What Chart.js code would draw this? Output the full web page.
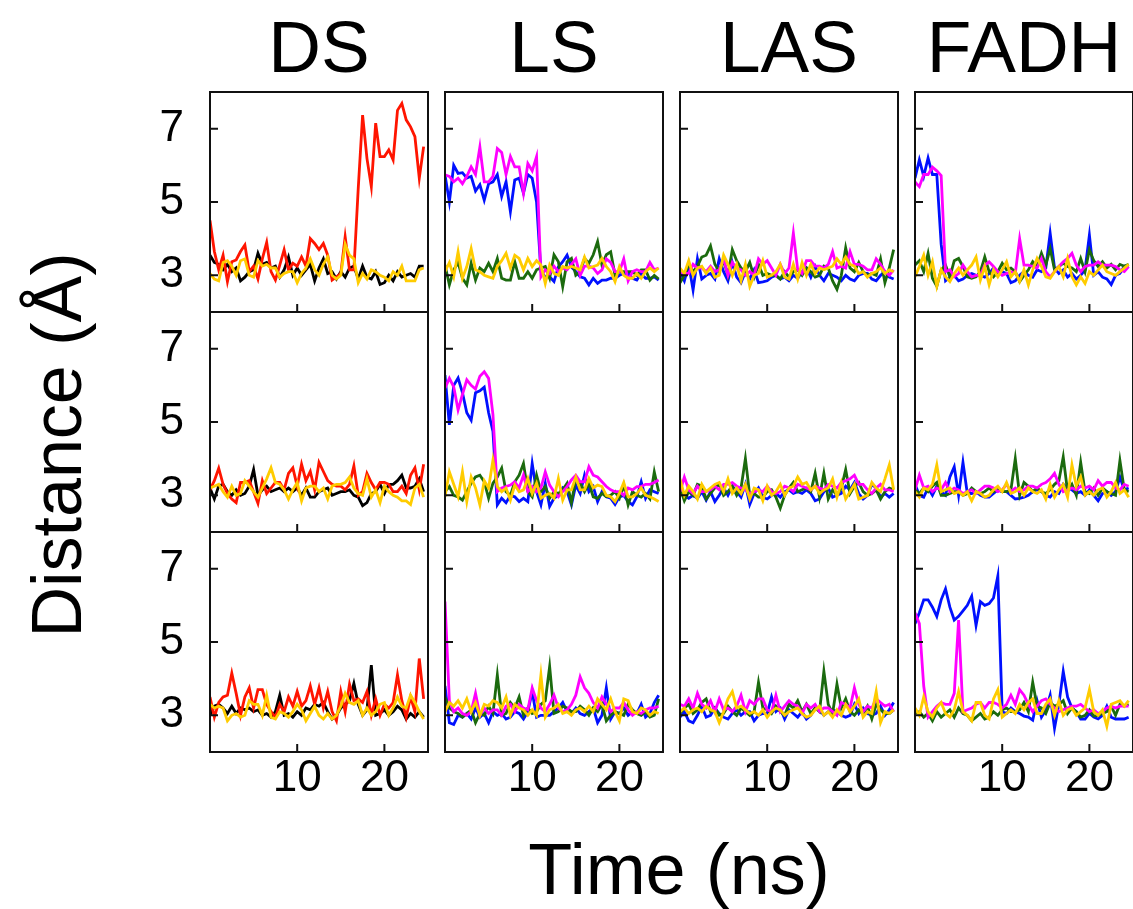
<!DOCTYPE html>
<html>
<head>
<meta charset="utf-8">
<title>Distance vs time</title>
<script src="https://cdn.jsdelivr.net/npm/chart.js@4.4.1/dist/chart.umd.min.js"></script>
<style>
  html, body { margin: 0; padding: 0; background: #fff; }
  #page { position: relative; width: 1133px; height: 909px; overflow: hidden;
          font-family: "Liberation Sans", Arial, Helvetica, sans-serif; color: #000; }
  #page canvas { position: absolute; }
  .title { position: absolute; top: 11px; width: 218px; text-align: center;
           font-size: 73px; line-height: 72px; white-space: nowrap; }
  #xlabel { position: absolute; left: 679px; top: 833px; transform: translateX(-50%);
            font-size: 72px; line-height: 72px; white-space: nowrap; }
  #ylabel { position: absolute; left: 57px; top: 445px; transform: translate(-50%, -50%) rotate(-90deg);
            font-size: 70px; line-height: 72px; white-space: nowrap; }
</style>
</head>
<body>
<div id="page">
  <div class="title" style="left:210px">DS</div>
  <div class="title" style="left:445px">LS</div>
  <div class="title" style="left:680px">LAS</div>
  <div class="title" style="left:915px">FADH</div>
  <div id="ylabel">Distance (Å)</div>
  <div id="xlabel">Time (ns)</div>
</div>
<script>
// time axis (ns), one sample every 0.5 ns
const time = [0, 0.5, 1, 1.5, 2, 2.5, 3, 3.5, 4, 4.5, 5, 5.5, 6, 6.5, 7, 7.5, 8, 8.5, 9, 9.5,
  10, 10.5, 11, 11.5, 12, 12.5, 13, 13.5, 14, 14.5, 15, 15.5, 16, 16.5, 17, 17.5, 18, 18.5, 19, 19.5,
  20, 20.5, 21, 21.5, 22, 22.5, 23, 23.5, 24, 24.5];
const yTicks = [3, 5, 7];
const xTicks = [10, 20];
const titles = ['DS', 'LS', 'LAS', 'FADH'];

// ---- row 1 ----
const ds1Black = [3.55, 3.35, 3.3, 3.15, 3.3, 3.1, 3.2, 2.85, 2.95, 3.1, 3.15, 3.6, 3.3, 3.35, 3.2, 3.25, 2.95, 3.15, 3.5, 3.0,
  3.2, 3.0, 3.15, 3.3, 2.85, 3.2, 3.45, 3.05, 3.1, 2.9, 3.1, 2.95, 3.2, 3.25, 2.9, 3.25, 2.95, 2.9, 3.1, 2.75,
  2.8, 3.0, 2.85, 3.1, 2.95, 3.0, 3.05, 2.95, 3.25, 3.25];
const ds1Red = [4.5, 3.65, 3.15, 3.55, 2.83, 3.37, 3.42, 3.65, 3.83, 3.1, 3.25, 2.9, 3.45, 3.9, 3.1, 2.87, 3.28, 3.7, 3.15, 3.33,
  3.25, 3.5, 3.25, 4.0, 3.87, 3.7, 3.87, 3.55, 2.87, 2.96, 3.05, 4.05, 3.15, 3.15, 5.37, 7.37, 6.19, 5.42, 7.15, 6.24,
  6.24, 6.42, 6.15, 7.5, 7.69, 7.24, 7.05, 6.78, 5.65, 6.51];
const ds1Yellow = [3.05, 2.9, 2.85, 3.35, 3.4, 3.25, 3.0, 3.4, 3.45, 3.0, 2.95, 3.4, 3.25, 3.3, 3.2, 3.2, 2.95, 3.05, 3.1, 3.1,
  2.8, 3.05, 3.2, 3.45, 3.15, 3.0, 3.3, 3.5, 3.0, 2.9, 3.0, 3.85, 3.55, 3.45, 2.8, 3.05, 2.9, 3.15, 3.1, 3.0,
  2.95, 2.85, 3.1, 3.0, 3.25, 2.85, 2.85, 2.85, 3.15, 3.2];

const ls1Blue = [5.74, 5.0, 6.0, 5.78, 5.8, 5.65, 5.7, 5.3, 5.47, 5.05, 5.5, 5.55, 5.75, 5.15, 5.55, 4.74, 5.6, 5.65, 5.24, 5.75,
  5.65, 5.0, 3.1, 2.96, 2.96, 2.83, 3.23, 3.37, 3.55, 3.23, 3.1, 2.96, 2.92, 2.74, 2.92, 2.78, 2.87, 2.87, 2.92, 2.92,
  3.0, 3.05, 3.05, 2.92, 2.87, 3.05, 2.92, 2.92, 2.96, 2.87];
const ls1Magenta = [5.74, 5.7, 5.55, 5.65, 5.5, 5.7, 5.96, 5.75, 6.5, 5.55, 5.55, 5.7, 6.46, 6.35, 5.75, 6.24, 5.96, 5.96, 5.24, 6.05,
  5.85, 6.24, 2.96, 3.15, 3.05, 3.25, 3.1, 3.2, 3.15, 3.3, 3.45, 3.0, 3.25, 3.25, 3.2, 3.05, 3.15, 3.45, 3.35, 3.1,
  3.1, 3.45, 2.85, 3.1, 3.15, 3.1, 3.1, 3.35, 3.15, 3.2];
const ls1Green = [3.28, 2.74, 3.15, 3.35, 2.92, 2.74, 3.33, 2.87, 3.2, 3.1, 3.33, 3.1, 3.46, 2.92, 2.87, 2.87, 3.37, 2.92, 2.92, 3.1,
  2.92, 3.15, 3.2, 3.24, 2.92, 3.56, 3.37, 2.69, 3.37, 3.46, 3.0, 3.1, 3.46, 3.33, 3.56, 3.92, 3.28, 3.56, 3.64, 3.0,
  3.1, 3.1, 3.1, 3.1, 3.0, 3.15, 3.15, 2.87, 3.0, 2.9];
const ls1Yellow = [3.1, 3.35, 2.96, 3.64, 2.92, 3.24, 3.73, 3.15, 3.1, 3.0, 2.96, 2.92, 3.24, 3.4, 3.6, 3.2, 3.55, 3.46, 3.15, 3.46,
  3.24, 3.4, 3.28, 2.78, 3.28, 3.05, 3.0, 3.24, 3.2, 3.24, 3.2, 3.15, 3.5, 3.2, 3.24, 3.28, 3.46, 3.24, 3.1, 2.83,
  3.24, 3.0, 2.92, 2.92, 3.05, 2.92, 3.1, 3.2, 3.1, 3.2];

const las1Blue = [3.1, 2.85, 3.3, 2.6, 3.45, 2.9, 3.0, 3.05, 2.9, 3.45, 3.1, 2.85, 3.35, 2.95, 2.8, 3.1, 2.9, 3.15, 2.8, 2.82,
  2.85, 2.95, 3.0, 2.9, 2.95, 2.85, 3.0, 2.92, 3.1, 3.2, 2.95, 3.25, 3.0, 2.85, 3.05, 3.0, 2.95, 2.85, 3.0, 2.9,
  2.85, 3.0, 3.05, 3.05, 2.9, 2.85, 3.0, 3.1, 2.95, 2.9];
const las1Magenta = [3.1, 3.05, 3.05, 3.3, 3.2, 3.2, 3.1, 3.25, 3.1, 3.15, 3.45, 3.0, 3.35, 3.2, 3.15, 3.0, 3.1, 3.0, 3.45, 3.3,
  3.4, 3.2, 3.0, 3.3, 3.05, 3.2, 4.15, 3.15, 3.05, 3.4, 3.4, 3.25, 3.25, 3.2, 3.3, 3.65, 3.2, 3.25, 3.2, 3.65,
  3.3, 3.3, 3.25, 3.15, 3.15, 3.45, 3.3, 3.1, 3.0, 3.15];
const las1Green = [2.8, 3.0, 3.3, 3.1, 3.25, 3.5, 3.55, 3.8, 3.3, 3.1, 3.4, 3.0, 3.7, 3.4, 3.2, 3.1, 3.35, 2.95, 3.3, 3.0,
  3.05, 3.0, 3.0, 2.9, 3.1, 2.95, 3.1, 3.15, 3.0, 3.2, 3.1, 2.95, 3.0, 3.25, 3.2, 2.85, 2.62, 3.0, 3.75, 3.2,
  3.1, 3.35, 3.1, 3.0, 3.05, 3.0, 3.45, 2.8, 3.2, 3.7];
const las1Yellow = [3.2, 3.05, 3.4, 3.0, 3.2, 3.25, 3.05, 3.2, 2.95, 3.0, 3.55, 3.3, 3.0, 3.3, 2.85, 3.3, 2.7, 3.0, 3.05, 3.4,
  2.95, 3.0, 3.1, 3.3, 2.95, 2.9, 3.3, 2.9, 3.35, 3.0, 3.3, 3.05, 3.2, 3.15, 3.2, 3.25, 3.45, 3.3, 3.5, 3.3,
  3.25, 3.05, 3.1, 2.95, 3.05, 3.1, 3.2, 3.05, 3.15, 3.1];

const fadh1Blue = [5.65, 6.15, 5.7, 6.2, 5.75, 5.75, 3.85, 2.85, 2.95, 3.0, 2.85, 2.9, 3.0, 3.05, 3.0, 3.0, 2.95, 3.05, 3.2, 3.05,
  3.1, 3.05, 2.8, 2.85, 3.0, 3.1, 3.0, 2.95, 3.15, 3.1, 3.2, 4.15, 3.2, 3.05, 3.15, 2.95, 3.05, 2.9, 3.0, 3.15,
  4.1, 3.0, 3.1, 2.95, 2.9, 2.75, 3.0, 3.05, 3.25, 3.25];
const fadh1Magenta = [5.55, 5.42, 5.75, 5.75, 5.95, 5.85, 5.72, 3.1, 3.15, 2.96, 3.05, 3.28, 3.1, 2.96, 3.0, 3.0, 3.28, 3.37, 3.24, 3.1,
  3.0, 3.05, 3.1, 3.05, 4.0, 3.28, 3.28, 3.24, 3.2, 3.46, 3.1, 2.96, 3.1, 3.24, 3.37, 3.46, 3.6, 3.28, 3.1, 3.24,
  3.28, 3.28, 3.37, 3.28, 3.28, 3.28, 3.24, 3.15, 3.1, 3.24];
const fadh1Green = [3.28, 3.4, 3.1, 3.6, 2.92, 2.7, 3.15, 3.28, 2.96, 3.4, 3.46, 3.24, 2.96, 2.92, 2.96, 3.1, 3.5, 3.1, 2.96, 3.1,
  3.33, 3.15, 3.2, 3.1, 2.83, 3.0, 3.15, 3.37, 3.24, 3.6, 3.28, 3.73, 3.15, 3.24, 3.33, 3.24, 3.2, 3.1, 3.46, 3.1,
  3.7, 3.4, 3.24, 3.37, 3.2, 3.3, 3.15, 3.3, 3.25, 3.3];
const fadh1Yellow = [2.96, 3.24, 3.55, 3.0, 3.37, 2.7, 3.15, 2.96, 2.83, 3.05, 3.2, 3.0, 3.15, 3.28, 3.5, 2.87, 3.24, 2.74, 3.15, 2.96,
  3.15, 3.37, 2.96, 3.1, 2.83, 3.15, 2.74, 3.15, 3.46, 3.24, 2.96, 2.92, 3.1, 3.24, 2.96, 3.46, 2.96, 2.74, 2.96, 2.78,
  3.1, 3.0, 3.15, 3.28, 3.1, 3.05, 3.0, 3.1, 3.2, 3.3];

// ---- row 2 ----
const ds2Black = [3.2, 2.9, 3.25, 3.3, 3.1, 3.0, 3.15, 3.0, 3.05, 3.25, 3.7, 3.0, 3.15, 3.25, 3.1, 3.15, 3.2, 3.1, 3.2, 3.1,
  3.2, 3.0, 3.2, 2.95, 2.95, 3.1, 3.15, 3.2, 3.0, 3.05, 3.1, 3.1, 3.15, 3.0, 2.95, 2.72, 2.8, 3.05, 3.1, 3.3,
  3.05, 3.3, 3.3, 3.4, 3.55, 3.2, 3.2, 3.25, 3.45, 3.1];
const ds2Red = [3.15, 3.4, 3.74, 3.3, 3.05, 2.9, 2.8, 3.35, 3.35, 3.4, 3.1, 2.78, 3.4, 3.05, 3.2, 3.35, 3.35, 3.15, 3.6, 3.75,
  3.25, 3.85, 3.4, 3.65, 3.15, 3.9, 3.65, 3.4, 3.3, 3.25, 3.25, 3.15, 3.3, 3.8, 3.0, 3.1, 3.6, 3.35, 3.15, 3.35,
  3.35, 3.3, 3.1, 3.1, 3.25, 3.05, 3.55, 3.75, 3.15, 3.85];
const ds2Yellow = [3.2, 3.25, 3.3, 3.1, 2.95, 3.25, 3.0, 3.05, 3.4, 3.25, 3.1, 2.95, 3.2, 3.45, 3.75, 3.35, 3.3, 3.15, 2.9, 3.15,
  3.35, 2.85, 3.2, 3.25, 3.25, 3.1, 3.2, 2.9, 3.25, 3.3, 3.3, 3.35, 3.5, 3.2, 3.05, 3.0, 3.45, 2.95, 3.15, 2.8,
  3.25, 3.1, 3.0, 2.95, 2.85, 2.85, 2.75, 3.2, 3.3, 2.95];

const ls2Blue = [6.28, 4.92, 6.0, 6.2, 5.8, 5.25, 5.05, 5.8, 5.85, 5.95, 5.25, 4.74, 2.74, 2.92, 2.8, 3.0, 2.96, 2.83, 2.92, 2.83,
  3.87, 3.1, 2.74, 3.33, 2.7, 2.92, 3.0, 3.2, 3.1, 2.74, 3.28, 3.05, 3.55, 3.1, 3.24, 2.83, 3.1, 2.96, 2.92, 2.75,
  2.96, 3.0, 2.83, 2.74, 2.96, 3.37, 2.92, 3.15, 3.1, 3.05];
const ls2Magenta = [5.92, 6.19, 5.96, 5.33, 5.75, 6.15, 6.0, 5.9, 6.25, 6.37, 6.19, 5.2, 3.1, 3.2, 3.24, 3.28, 3.37, 3.2, 3.55, 3.1,
  3.24, 3.1, 3.2, 3.64, 3.28, 3.1, 2.96, 3.1, 3.24, 3.42, 3.55, 3.37, 3.37, 3.78, 3.55, 3.5, 3.37, 3.24, 3.15, 3.1,
  3.1, 3.0, 3.2, 3.15, 3.24, 3.24, 3.3, 3.3, 3.35, 3.42];
const ls2Green = [3.1, 3.24, 3.0, 2.96, 2.87, 3.1, 3.33, 3.5, 3.55, 3.37, 2.92, 3.33, 3.5, 3.74, 3.1, 3.0, 3.37, 3.55, 3.87, 3.1,
  2.96, 3.55, 3.1, 3.24, 2.92, 3.1, 3.05, 3.15, 3.33, 2.8, 3.46, 3.33, 3.1, 3.33, 2.96, 2.92, 3.05, 2.96, 3.0, 3.1,
  2.92, 3.28, 2.74, 3.1, 3.0, 2.95, 3.05, 2.9, 3.64, 3.1];
const ls2Yellow = [2.96, 3.64, 3.3, 2.96, 3.64, 2.83, 3.5, 3.2, 2.74, 3.4, 3.2, 3.96, 3.24, 3.1, 3.2, 2.87, 3.28, 3.1, 3.15, 3.46,
  3.05, 3.33, 2.92, 3.0, 3.05, 2.92, 3.46, 2.87, 3.15, 3.15, 3.5, 3.15, 3.15, 3.46, 3.2, 3.28, 3.24, 3.0, 2.96, 2.83,
  3.05, 3.35, 2.96, 2.96, 3.05, 3.2, 3.0, 2.96, 2.9, 2.83];

const las2Blue = [3.05, 3.0, 2.92, 3.0, 2.92, 3.1, 2.87, 3.1, 2.83, 3.0, 3.2, 3.0, 3.25, 3.1, 2.95, 3.3, 2.75, 3.05, 3.2, 2.95,
  2.9, 3.0, 3.05, 2.95, 3.1, 3.15, 3.05, 3.1, 3.05, 3.15, 3.05, 2.85, 2.9, 3.1, 3.2, 2.95, 3.0, 3.05, 3.25, 3.15,
  3.35, 3.05, 2.9, 3.0, 3.3, 3.2, 2.95, 3.05, 2.95, 3.05];
const las2Magenta = [3.1, 3.5, 3.15, 3.05, 3.25, 3.1, 3.1, 3.15, 3.25, 3.15, 3.3, 3.3, 3.35, 3.25, 3.2, 3.15, 3.05, 3.1, 3.15, 3.1,
  3.25, 3.1, 3.05, 3.1, 3.25, 3.2, 3.1, 3.3, 3.25, 3.2, 3.15, 3.25, 3.2, 3.15, 3.3, 3.25, 3.2, 3.35, 3.4, 3.45,
  3.55, 3.3, 3.3, 3.15, 3.05, 3.2, 3.3, 3.15, 3.15, 3.1];
const las2Green = [3.2, 2.85, 3.1, 3.0, 3.3, 3.25, 2.9, 3.05, 3.2, 3.3, 3.0, 3.1, 3.25, 3.0, 3.2, 4.0, 3.0, 3.05, 2.95, 2.95,
  3.1, 3.15, 2.95, 2.65, 3.0, 3.2, 3.35, 3.1, 3.15, 3.2, 3.1, 3.6, 2.95, 3.6, 2.9, 3.15, 3.0, 3.2, 3.7, 3.05,
  3.25, 3.35, 3.1, 3.0, 3.05, 3.15, 2.9, 3.1, 3.2, 3.15];
const las2Yellow = [3.45, 3.0, 3.25, 3.1, 2.9, 3.3, 3.1, 3.2, 3.3, 3.35, 3.1, 3.45, 3.05, 3.2, 3.05, 3.3, 2.9, 3.2, 3.15, 2.85,
  3.25, 3.0, 3.1, 3.3, 3.0, 3.2, 3.25, 3.5, 3.3, 3.35, 3.15, 3.25, 3.05, 3.15, 3.2, 3.45, 2.95, 3.35, 2.9, 3.1,
  3.3, 2.9, 2.95, 3.0, 3.35, 3.2, 3.1, 3.45, 3.83, 3.15];

const fadh2Blue = [3.3, 3.0, 2.95, 3.2, 3.0, 3.25, 3.1, 3.0, 3.5, 3.78, 3.0, 3.9, 3.05, 3.05, 3.1, 3.0, 2.95, 2.95, 3.05, 3.15,
  3.1, 3.1, 3.0, 2.9, 2.92, 2.95, 3.0, 3.1, 3.15, 3.1, 3.0, 2.95, 3.1, 3.05, 3.3, 3.2, 3.15, 3.05, 3.1, 3.0,
  3.15, 3.0, 2.85, 3.05, 3.1, 3.0, 3.1, 3.5, 3.15, 3.2];
const fadh2Magenta = [3.15, 3.55, 3.2, 3.25, 3.1, 3.2, 3.15, 3.35, 3.1, 3.2, 3.15, 3.05, 3.1, 3.15, 3.05, 3.15, 3.25, 3.25, 3.2, 3.1,
  3.15, 3.3, 3.1, 3.2, 3.1, 3.15, 3.25, 3.25, 3.2, 3.3, 3.35, 3.45, 3.6, 3.3, 3.1, 3.15, 3.2, 3.15, 3.25, 3.2,
  3.25, 3.15, 3.4, 3.25, 3.35, 3.35, 3.2, 3.15, 3.3, 3.25];
const fadh2Green = [3.15, 3.05, 3.2, 3.1, 3.25, 3.35, 3.0, 3.0, 3.05, 3.1, 3.1, 3.0, 3.05, 3.2, 3.1, 3.05, 3.1, 3.2, 3.1, 3.15,
  3.1, 3.1, 3.15, 4.0, 3.0, 3.35, 3.25, 3.1, 3.2, 3.1, 3.05, 3.15, 3.3, 3.4, 4.05, 3.1, 3.3, 3.0, 3.9, 3.1,
  3.05, 3.2, 3.0, 3.2, 3.1, 3.05, 3.0, 3.95, 3.15, 3.1];
const fadh2Yellow = [3.1, 2.95, 3.2, 3.15, 3.3, 3.83, 3.1, 3.15, 3.2, 3.05, 3.1, 3.0, 3.1, 2.85, 3.1, 3.05, 2.95, 3.0, 3.15, 3.25,
  3.1, 3.35, 3.05, 3.1, 3.2, 3.0, 3.2, 3.1, 3.05, 3.15, 2.9, 3.3, 2.95, 3.15, 3.3, 2.95, 3.83, 3.25, 3.5, 3.0,
  3.1, 3.0, 3.15, 3.2, 2.95, 3.1, 3.35, 3.05, 3.15, 2.95];

// ---- row 3 ----
const ds3Black = [3.0, 3.25, 3.3, 3.2, 3.05, 3.25, 3.05, 3.2, 3.15, 3.2, 3.1, 3.15, 3.0, 3.05, 2.95, 3.1, 3.55, 3.0, 3.05, 2.95,
  3.1, 3.0, 3.2, 3.15, 3.3, 3.25, 3.35, 3.1, 2.9, 3.0, 3.2, 3.3, 3.4, 3.87, 3.3, 3.0, 3.15, 4.37, 3.0, 3.05,
  3.15, 3.0, 3.1, 3.25, 3.15, 2.9, 3.05, 2.95, 3.1, 2.95];
const ds3Red = [3.5, 2.95, 3.35, 3.5, 3.55, 4.15, 3.6, 3.0, 3.5, 3.75, 3.2, 3.7, 3.7, 3.3, 3.1, 2.95, 3.3, 3.1, 3.5, 3.25,
  3.65, 3.25, 3.4, 3.8, 3.3, 3.75, 3.2, 3.65, 3.1, 2.85, 3.65, 3.1, 3.85, 3.4, 3.45, 3.35, 3.65, 3.0, 3.45, 3.0,
  3.3, 3.2, 3.35, 4.1, 3.4, 2.95, 3.5, 3.1, 4.55, 3.45];
const ds3Yellow = [3.3, 3.2, 3.25, 3.2, 2.85, 3.0, 3.05, 2.95, 3.0, 3.4, 3.3, 3.3, 3.0, 3.55, 2.95, 2.9, 3.1, 3.05, 2.95, 3.1,
  3.3, 3.15, 2.85, 3.05, 3.25, 3.0, 2.9, 3.05, 2.9, 3.0, 3.25, 3.6, 3.35, 3.3, 3.4, 3.0, 3.2, 3.0, 3.1, 3.3,
  3.35, 3.0, 3.2, 3.5, 3.25, 3.2, 3.55, 3.35, 3.1, 2.9];

const ls3Blue = [3.8, 2.8, 2.75, 3.0, 2.95, 3.05, 2.9, 3.2, 2.95, 3.05, 2.8, 3.1, 3.0, 3.05, 2.9, 2.95, 3.1, 3.05, 2.9, 3.1,
  3.65, 2.95, 3.0, 3.0, 3.0, 3.1, 3.2, 3.35, 3.1, 3.05, 3.2, 3.05, 3.0, 3.1, 3.2, 2.8, 3.0, 3.75, 2.9, 3.1,
  3.05, 3.2, 3.0, 3.1, 3.05, 3.3, 2.95, 3.05, 3.35, 3.55];
const ls3Magenta = [6.1, 3.4, 3.1, 3.2, 3.05, 3.0, 3.1, 3.6, 3.0, 3.2, 3.05, 3.15, 3.15, 3.0, 3.25, 3.3, 3.1, 3.3, 3.2, 3.15,
  3.75, 3.4, 3.2, 3.1, 3.3, 3.55, 3.2, 3.1, 3.15, 3.3, 3.55, 4.05, 3.75, 3.6, 3.35, 3.2, 3.5, 3.3, 3.1, 3.2,
  3.2, 3.35, 3.15, 3.0, 3.1, 3.05, 3.15, 3.2, 3.2, 3.25];
const ls3Green = [3.5, 3.2, 3.1, 3.05, 2.95, 3.05, 3.15, 2.8, 3.05, 3.0, 3.25, 3.05, 4.1, 3.0, 3.05, 3.35, 3.2, 3.5, 3.0, 3.2,
  3.05, 3.1, 3.3, 3.4, 4.33, 3.05, 3.1, 3.25, 3.2, 3.1, 3.1, 3.25, 3.15, 3.0, 3.2, 3.1, 3.3, 2.85, 3.0, 3.1,
  3.05, 3.0, 3.3, 3.15, 3.05, 3.0, 3.1, 2.95, 3.0, 3.45];
const ls3Yellow = [3.1, 3.35, 3.25, 3.4, 3.2, 3.45, 3.1, 3.35, 3.0, 3.3, 3.25, 3.4, 3.35, 3.2, 3.5, 3.0, 3.3, 3.2, 3.15, 3.0,
  3.15, 3.0, 4.1, 2.95, 3.15, 3.2, 3.3, 3.05, 3.1, 3.0, 3.15, 3.2, 3.1, 3.25, 3.1, 3.45, 3.3, 3.15, 3.45, 3.1,
  2.85, 3.45, 3.4, 3.1, 3.05, 3.2, 3.15, 3.0, 3.1, 3.05];

const las3Blue = [2.95, 3.1, 2.85, 2.8, 3.0, 3.25, 2.95, 3.0, 3.2, 3.05, 2.95, 2.9, 3.05, 3.15, 3.0, 3.1, 3.1, 2.85, 3.0, 3.05,
  3.05, 3.5, 3.1, 3.2, 2.9, 3.15, 3.05, 2.95, 3.1, 2.9, 3.0, 3.2, 3.15, 3.0, 3.1, 3.15, 3.1, 3.0, 2.95, 3.0,
  3.3, 3.05, 3.2, 3.05, 3.0, 3.05, 3.25, 3.0, 3.15, 3.35];
const las3Magenta = [3.3, 3.25, 3.45, 3.2, 3.6, 3.3, 3.2, 3.4, 3.1, 3.45, 3.15, 3.2, 3.1, 3.25, 3.55, 3.1, 3.4, 3.3, 3.45, 3.45,
  3.15, 3.1, 3.55, 3.1, 3.25, 3.4, 3.3, 3.25, 3.05, 3.3, 3.2, 3.3, 3.1, 3.2, 3.2, 3.1, 3.0, 3.35, 3.3, 3.2,
  3.75, 3.3, 3.1, 3.25, 3.2, 3.45, 3.35, 3.25, 3.3, 3.1];
const las3Green = [3.05, 3.2, 3.3, 3.05, 3.15, 3.35, 3.45, 3.1, 3.2, 3.0, 3.05, 3.25, 3.1, 3.0, 3.2, 3.1, 3.0, 3.1, 3.9, 3.2,
  3.15, 3.05, 3.25, 3.1, 3.0, 3.3, 3.2, 3.4, 3.1, 3.3, 3.05, 3.2, 3.1, 4.2, 3.3, 3.05, 3.85, 3.2, 3.45, 3.1,
  3.0, 3.15, 3.05, 3.25, 2.9, 3.3, 3.15, 3.05, 3.05, 3.15];
const las3Yellow = [3.1, 3.2, 3.05, 3.15, 3.2, 3.1, 3.25, 3.15, 3.1, 2.8, 3.1, 3.45, 3.65, 3.2, 3.25, 3.15, 3.05, 3.1, 3.0, 3.15,
  2.95, 3.1, 3.2, 3.15, 3.0, 3.1, 3.15, 3.2, 3.05, 2.95, 3.0, 3.15, 3.25, 3.0, 3.1, 2.95, 3.15, 3.0, 3.3, 3.1,
  3.25, 3.45, 2.95, 3.1, 3.05, 3.65, 2.8, 3.1, 3.05, 3.15];

const fadh3Blue = [5.5, 5.8, 6.15, 6.15, 5.95, 5.7, 6.15, 6.45, 5.95, 5.6, 5.7, 5.85, 6.0, 6.25, 5.45, 6.1, 6.0, 6.05, 6.2, 6.8,
  3.1, 3.05, 3.2, 3.1, 3.05, 2.98, 2.95, 2.87, 3.4, 2.95, 3.15, 3.55, 2.65, 3.3, 4.2, 3.5, 3.2, 3.1, 2.9, 2.9,
  3.05, 2.95, 2.9, 3.0, 3.25, 2.95, 2.9, 2.9, 2.9, 2.95];
const fadh3Magenta = [5.8, 5.5, 3.8, 2.95, 3.1, 3.25, 3.35, 3.3, 3.3, 3.6, 5.6, 3.1, 3.15, 3.2, 3.3, 3.35, 3.2, 3.35, 3.35, 3.3,
  3.2, 3.3, 3.55, 3.3, 3.7, 3.55, 3.3, 3.1, 3.25, 3.4, 3.45, 3.3, 3.2, 3.1, 3.15, 3.2, 3.25, 3.25, 3.3, 3.2,
  3.1, 3.15, 3.05, 3.1, 3.2, 3.25, 3.2, 3.25, 3.25, 3.25];
const fadh3Green = [3.05, 3.1, 2.95, 3.05, 2.85, 3.1, 2.95, 3.05, 3.15, 2.95, 3.2, 3.05, 3.0, 2.85, 2.95, 3.05, 2.9, 2.95, 3.1, 3.0,
  3.15, 3.2, 3.1, 3.1, 3.15, 3.35, 3.1, 3.9, 3.25, 3.2, 3.05, 3.35, 3.25, 3.3, 3.4, 3.05, 3.2, 3.1, 2.95, 3.0,
  3.15, 2.98, 3.0, 3.05, 3.1, 3.25, 3.0, 3.3, 3.25, 3.3];
const fadh3Yellow = [3.2, 3.0, 3.5, 3.1, 2.95, 3.2, 3.35, 3.05, 2.95, 3.15, 3.65, 3.1, 3.0, 2.85, 3.35, 3.35, 3.0, 2.9, 3.45, 3.7,
  2.95, 3.05, 3.15, 3.05, 3.3, 3.15, 3.35, 3.45, 3.05, 3.05, 3.3, 3.45, 3.0, 3.4, 3.0, 3.15, 3.2, 3.0, 3.1, 3.2,
  3.7, 3.1, 3.0, 3.15, 2.7, 3.3, 3.35, 3.4, 3.25, 3.4];

const colors = {
  black: '#000000',
  red: '#ff1500',
  yellow: '#ffcc00',
  blue: '#0010ff',
  magenta: '#ff00ff',
  green: '#1b6a0e'
};

// series listed bottom -> top
const panels = [
  { row: 0, col: 0, series: [[ds1Black, 'black'], [ds1Red, 'red'], [ds1Yellow, 'yellow']] },
  { row: 0, col: 1, series: [[ls1Blue, 'blue'], [ls1Green, 'green'], [ls1Magenta, 'magenta'], [ls1Yellow, 'yellow']] },
  { row: 0, col: 2, series: [[las1Blue, 'blue'], [las1Green, 'green'], [las1Magenta, 'magenta'], [las1Yellow, 'yellow']] },
  { row: 0, col: 3, series: [[fadh1Blue, 'blue'], [fadh1Green, 'green'], [fadh1Magenta, 'magenta'], [fadh1Yellow, 'yellow']] },
  { row: 1, col: 0, series: [[ds2Black, 'black'], [ds2Red, 'red'], [ds2Yellow, 'yellow']] },
  { row: 1, col: 1, series: [[ls2Blue, 'blue'], [ls2Green, 'green'], [ls2Magenta, 'magenta'], [ls2Yellow, 'yellow']] },
  { row: 1, col: 2, series: [[las2Blue, 'blue'], [las2Green, 'green'], [las2Magenta, 'magenta'], [las2Yellow, 'yellow']] },
  { row: 1, col: 3, series: [[fadh2Blue, 'blue'], [fadh2Green, 'green'], [fadh2Magenta, 'magenta'], [fadh2Yellow, 'yellow']] },
  { row: 2, col: 0, series: [[ds3Black, 'black'], [ds3Red, 'red'], [ds3Yellow, 'yellow']] },
  { row: 2, col: 1, series: [[ls3Blue, 'blue'], [ls3Green, 'green'], [ls3Magenta, 'magenta'], [ls3Yellow, 'yellow']] },
  { row: 2, col: 2, series: [[las3Blue, 'blue'], [las3Green, 'green'], [las3Magenta, 'magenta'], [las3Yellow, 'yellow']] },
  { row: 2, col: 3, series: [[fadh3Blue, 'blue'], [fadh3Green, 'green'], [fadh3Magenta, 'magenta'], [fadh3Yellow, 'yellow']] }
];

// panel geometry (page pixels)
const panelLeft = [210, 445, 680, 915];
const panelTop = [92, 312, 532];
const PLOT_W = 218, PLOT_H = 220;
const AXIS_W = 90, AXIS_H = 70, PAD = 4;
const FONT = "'Liberation Sans', Arial, Helvetica, sans-serif";

// box around the plot plus inward tick marks
const framePlugin = {
  id: 'frame',
  afterDraw(chart) {
    const { ctx, chartArea: a, scales } = chart;
    ctx.save();
    ctx.strokeStyle = '#111';
    ctx.lineWidth = 2;
    ctx.beginPath();
    yTicks.forEach(v => {
      const y = scales.y.getPixelForValue(v);
      ctx.moveTo(a.left, y);
      ctx.lineTo(a.left + 8, y);
    });
    xTicks.forEach(v => {
      const x = scales.x.getPixelForValue(v);
      ctx.moveTo(x, a.bottom);
      ctx.lineTo(x, a.bottom - 8);
    });
    ctx.stroke();
    ctx.strokeRect(a.left, a.top, a.right - a.left, a.bottom - a.top);
    ctx.restore();
  }
};

const page = document.getElementById('page');

panels.forEach(p => {
  const canvas = document.createElement('canvas');
  canvas.width = AXIS_W + PLOT_W + PAD;
  canvas.height = PAD + PLOT_H + AXIS_H;
  canvas.style.left = (panelLeft[p.col] - AXIS_W) + 'px';
  canvas.style.top = (panelTop[p.row] - PAD) + 'px';
  page.appendChild(canvas);

  const datasets = p.series.map(([values, color]) => ({
    data: values.map((v, i) => ({ x: time[i], y: v })),
    borderColor: colors[color],
    borderWidth: 2.8,
    pointRadius: 0,
    tension: 0,
    fill: false
  })).reverse(); // first dataset is drawn on top in Chart.js

  new Chart(canvas, {
    type: 'line',
    data: { datasets },
    options: {
      responsive: false,
      animation: false,
      devicePixelRatio: 1,
      layout: { padding: { top: PAD, right: PAD, left: 0, bottom: 0 } },
      plugins: { legend: { display: false }, tooltip: { enabled: false } },
      scales: {
        x: {
          type: 'linear', min: 0, max: 25,
          grid: { display: false, drawTicks: false },
          border: { display: false },
          ticks: { display: p.row === 2, color: '#000', padding: 0, font: { family: FONT, size: 44 } },
          afterBuildTicks: s => { s.ticks = xTicks.map(v => ({ value: v })); },
          afterFit: s => { s.height = AXIS_H; s.paddingLeft = 0; s.paddingRight = 0; }
        },
        y: {
          type: 'linear', min: 2, max: 8,
          grid: { display: false, drawTicks: false },
          border: { display: false },
          ticks: { display: p.col === 0, color: '#000', padding: 26, font: { family: FONT, size: 44 } },
          afterBuildTicks: s => { s.ticks = yTicks.map(v => ({ value: v })); },
          afterFit: s => { s.width = AXIS_W; s.paddingTop = 0; s.paddingBottom = 0; }
        }
      }
    },
    plugins: [framePlugin]
  });
});
</script>
</body>
</html>
